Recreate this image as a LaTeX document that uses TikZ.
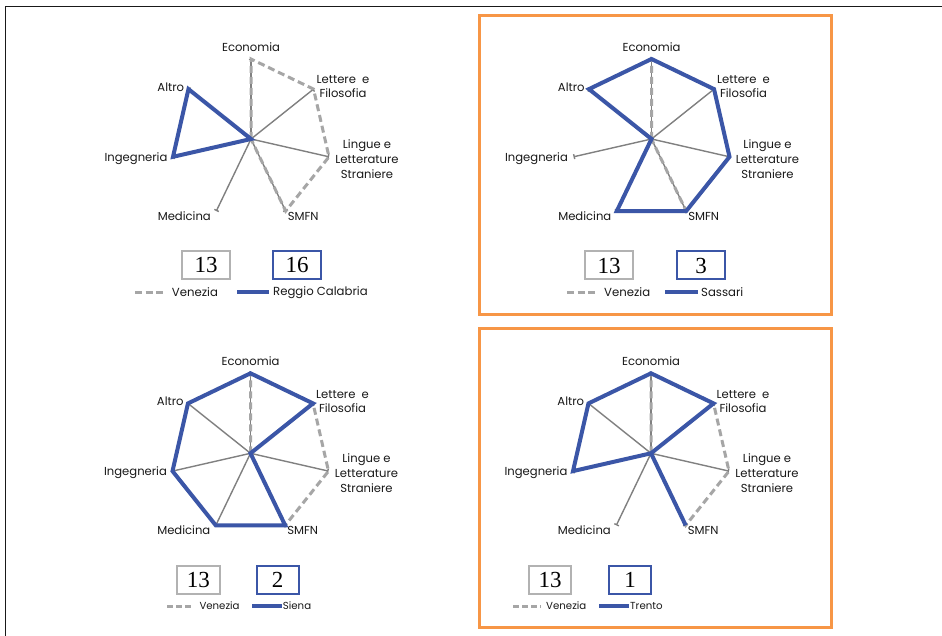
\documentclass[tikz,border=0pt]{standalone}
\usepackage{fontspec}
\setmainfont{Poppins}
\newfontfamily\numfont{Liberation Serif}
\usetikzlibrary{arrows.meta}
\definecolor{cblue}{RGB}{59,86,167}
\definecolor{cdash}{RGB}{166,166,166}
\definecolor{caxis}{RGB}{128,128,128}
\definecolor{cbox}{RGB}{178,178,178}
\definecolor{corange}{RGB}{247,150,70}
\definecolor{ctext}{RGB}{25,25,25}
\tikzset{
  axisline/.style={draw=caxis, line width=1.4pt, -{Bar[width=5pt]}},
  venline/.style={draw=cdash, line width=3pt, dash pattern=on 7pt off 4pt},
  uniline/.style={draw=cblue, line width=4pt},
  lab/.style={font=\fontsize{11.6}{14}\selectfont, text=ctext, inner sep=0pt},
  leg/.style={font=\fontsize{11.7}{12}\selectfont, text=ctext, inner sep=0pt, anchor=west},
  legs/.style={font=\fontsize{10.2}{12}\selectfont, text=ctext, inner sep=0pt, anchor=west},
  numbox/.style={draw, line width=2pt, minimum height=28pt, inner sep=0pt, fill=white,
    font=\numfont\fontsize{23}{23}\selectfont},
  graybox/.style={numbox, draw=cbox},
  bluebox/.style={numbox, draw=cblue},
  frame/.style={draw=corange, line width=3pt},
}
\newcommand{\radarpanel}[3]{%
  \coordinate (#1c) at (#2,#3);
  \foreach \k/\n in {0/eco,1/lett,2/ling,3/smfn,4/med,5/ing,6/alt}{
    \pgfmathsetmacro\ang{90-\k*360/7}
    \coordinate (#1\n) at ({#2+80*cos(\ang)},{#3-80*sin(\ang)});
    \draw[axisline] (#1c) -- (#1\n);
  }
  \node[lab] (#1Leco) at (#2,#3-92.3) {Economia};
  \node[lab, align=center] (#1Llett) at (#2+92,#3-52) {Lettere\ \ e\\Filosofia};
  \node[lab, align=center, font=\fontsize{11.6}{15}\selectfont] (#1Lling) at (#2+116,#3+20) {Lingue e\\Letterature\\Straniere};
  \node[lab, anchor=east] (#1Ling) at (#2-83.4,#3+19.4) {Ingegneria};
  \node[lab, anchor=east] (#1Lmed) at (#2-40,#3+77) {Medicina};
  \node[lab, anchor=west] (#1Lsmfn) at (#2+36.6,#3+77) {SMFN};
  \node[lab, anchor=east] (#1Lalt) at (#2-66.7,#3-51.6) {Altro};
}
\begin{document}
\begin{tikzpicture}[x=1pt,y=-1pt]
\useasboundingbox (0,0) rectangle (942,636);
\fill[white] (0,0) rectangle (942,636);
% outer black frame
\coordinate (frA) at (942,6.5);
\coordinate (frB) at (5.5,6.5);
\coordinate (frC) at (5.5,636);
\draw[line width=1.5pt, draw=ctext] (frA) -- (frB) -- (frC);
% orange frames
\coordinate (o1a) at (479.5,15.5);
\coordinate (o1b) at (831,314);
\coordinate (o2a) at (479.5,328.5);
\coordinate (o2b) at (831,627);
\draw[frame] (o1a) rectangle (o1b);
\draw[frame] (o2a) rectangle (o2b);

% ---------- Top-left: Reggio Calabria
\radarpanel{a}{251}{139}
\draw[venline] (ac) -- (aeco) -- (alett) -- (aling) -- (asmfn) -- cycle;
\draw[uniline] (ac) -- (aing) -- (aalt) -- cycle;
\node[graybox, minimum width=48pt] (abox1) at (206,265) {13};
\node[bluebox, minimum width=48pt] (abox2) at (297,265) {16};
\coordinate (ad1) at (135,292.3); \coordinate (ad2) at (165,292.3);
\coordinate (ab1) at (237,292.3); \coordinate (ab2) at (269,292.3);
\draw[venline, dash pattern=on 7pt off 3.5pt] (ad1) -- (ad2);
\draw[uniline] (ab1) -- (ab2);
\node[leg] (aleg1) at (171.7,292.3) {Venezia};
\node[leg] (aleg2) at (273,292.3) {Reggio Calabria};

% ---------- Top-right: Sassari
\radarpanel{b}{651.5}{139}
\draw[venline] (bc) -- (beco) -- (blett) -- (bling) -- (bsmfn) -- cycle;
\draw[uniline] (beco) -- (blett) -- (bling) -- (bsmfn) -- (bmed) -- (bc) -- (balt) -- cycle;
\node[graybox, minimum width=48pt] (bbox1) at (609,265.5) {13};
\node[bluebox, minimum width=48pt] (bbox2) at (701,265.5) {3};
\coordinate (bd1) at (567,292.3); \coordinate (bd2) at (597,292.3);
\coordinate (bb1) at (665,292.3); \coordinate (bb2) at (698,292.3);
\draw[venline, dash pattern=on 7pt off 3.5pt] (bd1) -- (bd2);
\draw[uniline] (bb1) -- (bb2);
\node[leg] (bleg1) at (604,292.3) {Venezia};
\node[leg] (bleg2) at (701,292.3) {Sassari};

% ---------- Bottom-left: Siena
\radarpanel{c}{250.5}{453.3}
\draw[venline] (cc) -- (ceco) -- (clett) -- (cling) -- (csmfn) -- cycle;
\draw[uniline] (ceco) -- (clett) -- (cc) -- (csmfn) -- (cmed) -- (cing) -- (calt) -- cycle;
\node[graybox, minimum width=43pt] (cbox1) at (198.3,580.2) {13};
\node[bluebox, minimum width=42pt] (cbox2) at (277.5,580.2) {2};
\coordinate (cd1) at (167,606); \coordinate (cd2) at (193,606);
\coordinate (cb1) at (252,606); \coordinate (cb2) at (282,606);
\draw[venline, dash pattern=on 6pt off 3pt] (cd1) -- (cd2);
\draw[uniline] (cb1) -- (cb2);
\node[legs] (cleg1) at (199.3,606) {Venezia};
\node[legs] (cleg2) at (282.7,606) {Siena};

% ---------- Bottom-right: Trento
\radarpanel{d}{651}{453.3}
\draw[venline] (dc) -- (deco) -- (dlett) -- (dling) -- (dsmfn) -- cycle;
\draw[uniline] (deco) -- (dlett) -- (dc) -- (dsmfn) -- (dc) -- (ding) -- (dalt) -- cycle;
\node[graybox, minimum width=42pt] (dbox1) at (550,580.2) {13};
\node[bluebox, minimum width=42pt] (dbox2) at (630,580.2) {1};
\coordinate (dd1) at (513.3,606); \coordinate (dd2) at (540.7,606);
\coordinate (db1) at (599.3,606); \coordinate (db2) at (629.3,606);
\draw[venline, dash pattern=on 6pt off 3pt] (dd1) -- (dd2);
\draw[uniline] (db1) -- (db2);
\node[legs] (dleg1) at (546,606) {Venezia};
\node[legs] (dleg2) at (630,606) {Trento};
\end{tikzpicture}
\end{document}
